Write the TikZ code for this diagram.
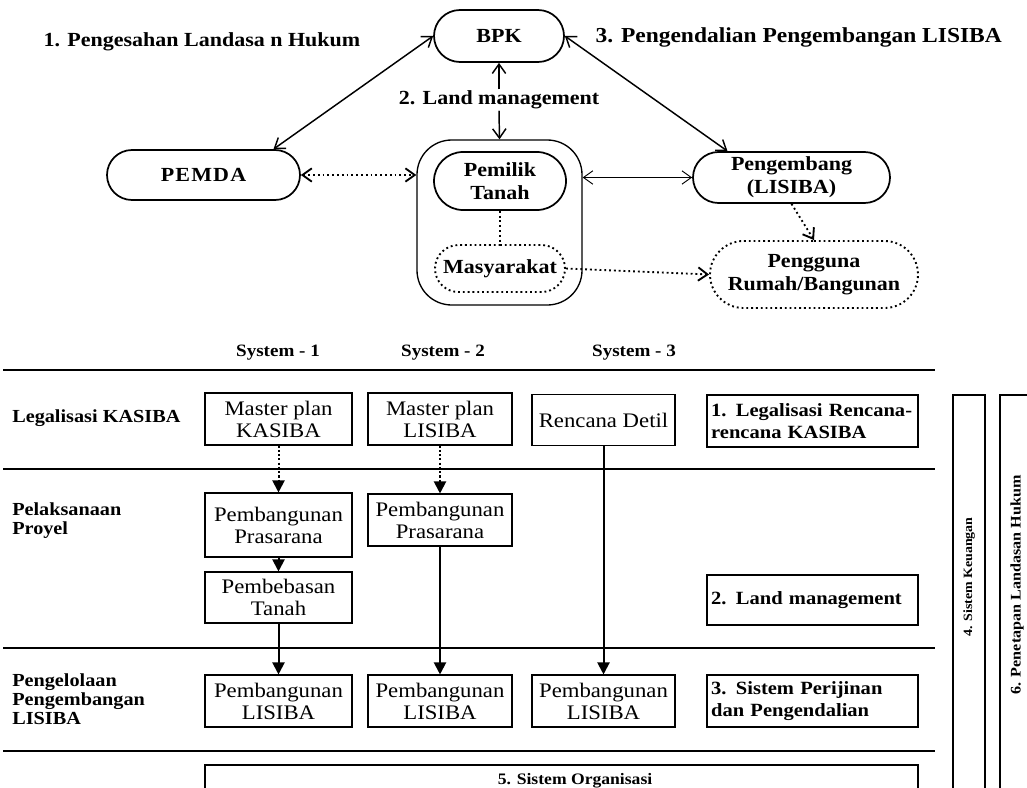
\documentclass[tikz,border=0pt]{standalone}
\usepackage{fontspec}
\setmainfont{Liberation Serif}[FakeStretch=1.1]
\usetikzlibrary{arrows.meta,shapes.misc,calc}
\newcommand\fsz[2]{\fontsize{#1}{#2}\selectfont}
\tikzset{
  sz/.style n args={2}{minimum width=#1*0.75pt,minimum height=#2*0.75pt},
  oval/.style={rounded rectangle,draw,line width=1.3pt,inner sep=0pt,align=center,font=\fsz{15}{17}\bfseries},
  dotoval/.style={oval,line width=1.4pt,dash pattern=on 1.4pt off 2.2pt},
  toplbl/.style={inner sep=1pt,font=\fsz{15}{18}\bfseries},
  barbs/.style={{Straight Barb[length=7pt,width=10pt]}-{Straight Barb[length=7pt,width=10pt]}},
  barb/.style={-{Straight Barb[length=7pt,width=10pt]}},
  link/.style={line width=1.1pt,barbs},
  thinlink/.style={line width=0.7pt,barbs},
  dotlink/.style={line width=1.4pt,dash pattern=on 1.4pt off 2.2pt},
  sysbox/.style={rectangle,draw,line width=0.8pt,inner sep=0pt,align=center,font=\fsz{15.5}{16.5}},
  keybox/.style={rectangle,draw,line width=1.6pt,inner xsep=3pt,inner ysep=0pt,text width=152pt,align=left,font=\fsz{14}{16}\bfseries},
  rowlbl/.style={anchor=west,align=left,inner sep=0pt,font=\fsz{13.8}{14.3}\bfseries},
  syslbl/.style={inner sep=0pt,font=\fsz{13}{15}\bfseries},
  sepline/.style={line width=1pt},
  flow/.style={line width=1.5pt,-{Triangle[length=9pt,width=9pt]}},
  dotflow/.style={flow,dash pattern=on 1.6pt off 1.6pt},
  frame/.style={line width=1.5pt}
}
\begin{document}
\begin{tikzpicture}[x=0.75pt,y=-0.75pt]
\useasboundingbox (0,0) rectangle (1027,788);
\clip (0,0) rectangle (1027,788);

% ---- actors ----
\node[oval,sz={130}{52}] (bpk) at (499,36) {BPK};
\node[oval,sz={193}{50}] (pemda) at (203.5,175) {\addfontfeature{LetterSpace=6}PEMDA};
\node[draw,line width=1pt,rounded corners=26pt,sz={165}{165}] (encl) at (499.5,222.5) {};
\node[oval,sz={132}{58}] (pem) at (500,181) {Pemilik\\Tanah};
\node[dotoval,sz={130}{47}] (masy) at (500,268.5) {Masyarakat};
\node[oval,sz={197}{51}] (peng) at (791.5,177.5) {Pengembang\\(LISIBA)};
\node[dotoval,sz={208}{67}] (pgu) at (814,274.5) {Pengguna\\Rumah/Bangunan};

% ---- relation labels ----
\node[toplbl,anchor=west] (l1) at (42,42) {1. Pengesahan Landasa n Hukum};
\node[toplbl] (l2) at (499,100) {2. Land management};
\node[toplbl,anchor=west,font=\fsz{16}{18}\bfseries] (l3) at (594,37) {3. Pengendalian Pengembangan LISIBA};

% ---- relations ----
\draw[link] (bpk.west) -- ($(pemda.north)+(70,0)$);
\draw[link] (bpk.east) -- ($(peng.north)+(-64,0)$);
\draw[line width=1.1pt,barb] (l2.north) -- (bpk.south);
\draw[line width=1.1pt,barb] (l2.south) -- (encl.north);
\draw[dotlink,barbs] (pemda.east) -- (pemda.east -| encl.west);
\draw[thinlink] (encl.east |- peng.west) -- (peng.west);
\draw[dotlink] (pem.south) -- (masy.north);
\draw[dotlink,barb] (peng.south) -- (pgu.north);
\draw[dotlink,barb] (masy.east) -- (pgu.west);

% ---- system columns ----
\node[syslbl] (s1) at (278,353) {System - 1};
\node[syslbl] (s2) at (443,353) {System - 2};
\node[syslbl] (s3) at (634,353) {System - 3};

\draw[sepline] (3,370) -- (935,370);
\draw[sepline] (3,469) -- (935,469);
\draw[sepline] (3,648) -- (935,648);
\draw[sepline] (3,751) -- (935,751);

\node[rowlbl] (r1) at (12,418) {Legalisasi KASIBA};
\node[rowlbl] (r2) at (12,521) {Pelaksanaan\\Proyel};
\node[rowlbl] (r3) at (12,699) {Pengelolaan\\Pengembangan\\LISIBA};

% row 1
\node[sysbox,sz={147}{52}] (mk) at (278.5,419) {Master plan\\KASIBA};
\node[sysbox,sz={144}{52}] (ml) at (440,419) {Master plan\\LISIBA};
\node[sysbox,sz={143}{51}] (rd) at (603.5,420) {Rencana Detil};
\node[keybox,minimum height=39pt] (k1) at (812.5,421) {1. Legalisasi Rencana-\\rencana KASIBA};
% row 2
\node[sysbox,sz={147}{64}] (pp1) at (278.5,525) {Pembangunan\\Prasarana};
\node[sysbox,sz={144}{52}] (pp2) at (440,520) {Pembangunan\\Prasarana};
\node[sysbox,sz={147}{51}] (pt) at (278.5,597.5) {Pembebasan\\Tanah};
\node[keybox,minimum height=37.5pt] (k2) at (812.5,600) {2. Land management};
% row 3
\node[sysbox,sz={147}{52}] (pl1) at (278.5,701) {Pembangunan\\LISIBA};
\node[sysbox,sz={144}{52}] (pl2) at (440,701) {Pembangunan\\LISIBA};
\node[sysbox,sz={143}{52}] (pl3) at (603.5,701) {Pembangunan\\LISIBA};
\node[keybox,minimum height=39pt] (k3) at (812.5,701) {3. Sistem Perijinan\\dan Pengendalian};

% flows
\draw[dotflow] (mk.south) -- (pp1.north);
\draw[dotflow] (pp1.south) -- (pt.north);
\draw[flow] (pt.south) -- (pl1.north);
\draw[dotflow] (ml.south) -- (pp2.north);
\draw[flow] (pp2.south) -- (pl2.north);
\draw[flow] (rd.south) -- (pl3.north);

% organisation frame along the bottom
\draw[frame] (205,800) -- (205,765) -- (918,765) -- (918,800);
\node[inner sep=0pt,font=\fsz{12}{14}\bfseries] (org) at (575,781) {5. Sistem Organisasi};

% vertical frames on the right
\draw[frame] (953,800) -- (953,395) -- (985,395) -- (985,800);
\node[rotate=90,inner sep=0pt,font=\fsz{9.5}{11}\bfseries] (t4) at (969,577) {4. Sistem Keuangan};
\draw[frame] (1000,800) -- (1000,395) -- (1040,395);
\node[rotate=90,inner sep=0pt,font=\fsz{11}{13}\bfseries] (t6) at (1017,585) {6. Penetapan Landasan Hukum};
\end{tikzpicture}
\end{document}
